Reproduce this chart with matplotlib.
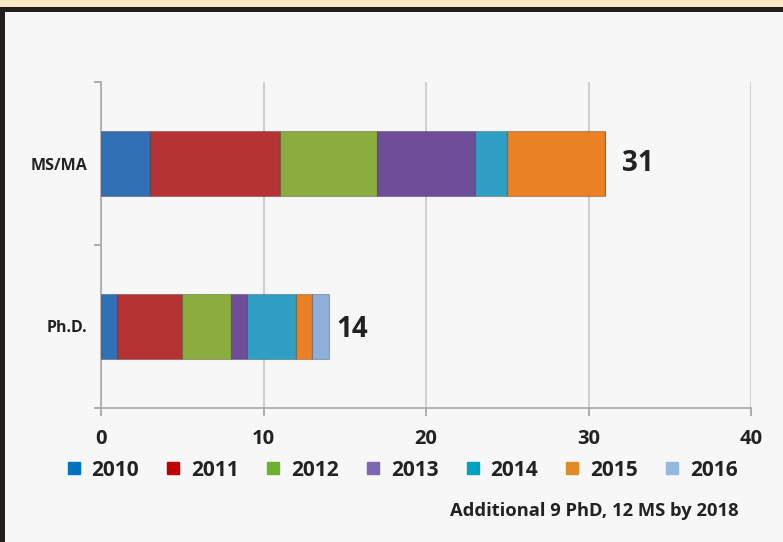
import matplotlib.pyplot as plt
from matplotlib.patches import Rectangle
from matplotlib.lines import Line2D

plt.rcParams['font.family'] = ['Open Sans', 'DejaVu Sans']

categories = ["Ph.D.", "MS/MA"]
years = ["2010", "2011", "2012", "2013", "2014", "2015", "2016"]
# counts per year, [Ph.D., MS/MA]
counts = {
    "2010": [1, 3],
    "2011": [4, 8],
    "2012": [3, 6],
    "2013": [1, 6],
    "2014": [3, 2],
    "2015": [1, 6],
    "2016": [1, 0],
}
bar_colors = ["#3170B5", "#B53333", "#8BAD3F", "#6E4E98", "#2FA0C3", "#EA8124", "#8DAFDA"]
legend_colors = ["#0070C0", "#C00000", "#70B030", "#7B68B0", "#00A0C0", "#E08A28", "#95B8E0"]
note = "Additional 9 PhD, 12 MS by 2018"

txt = "#222222"
fig = plt.figure(figsize=(7.83, 5.42), dpi=100, facecolor="#F7F7F7")

# frame strips
fig.add_artist(Rectangle((0, 1 - 7 / 542), 1, 7 / 542, transform=fig.transFigure,
                         facecolor="#FEE8C8", edgecolor="none"))
fig.add_artist(Rectangle((0, 1 - 12 / 542), 1, 5 / 542, transform=fig.transFigure,
                         facecolor="#23201C", edgecolor="none"))
fig.add_artist(Rectangle((0, 0), 5 / 783, 1 - 7 / 542, transform=fig.transFigure,
                         facecolor="#23201C", edgecolor="none"))

ax = fig.add_axes([101 / 783, 134 / 542, 650 / 783, 326 / 542])
ax.set_facecolor("#F7F7F7")

ypos = list(range(len(categories)))
left = [0] * len(categories)
for year, c in zip(years, bar_colors):
    vals = counts[year]
    ax.barh(ypos, vals, left=left, height=0.4, color=c,
            edgecolor=(0, 0, 0, 0.25), linewidth=0.8, zorder=3)
    left = [l + v for l, v in zip(left, vals)]

offsets = [8, 17]
for y, total, off in zip(ypos, left, offsets):
    ax.annotate(str(total), (total, y), xytext=(off * 0.72, -2 if y == 0 else 0),
                textcoords="offset points", va="center", ha="left",
                fontsize=20, fontweight="bold", color=txt)

ax.set_xlim(0, 40)
ax.set_ylim(-0.5, 1.5)
ax.set_xticks([0, 10, 20, 30, 40])
ax.set_xticklabels(["0", "10", "20", "30", "40"])
ax.set_yticks(ypos)
ax.set_yticklabels(categories)
ax.set_yticks([-0.5, 0.5, 1.5], minor=True)
ax.tick_params(axis="y", which="major", length=0, pad=10, labelsize=11.5, labelcolor=txt)
ax.tick_params(axis="y", which="minor", length=5, color="#A0A0A0", width=1.2)
ax.tick_params(axis="x", length=6, color="#A0A0A0", width=1.2, pad=9,
               labelsize=14.5, labelcolor=txt)
for lab in ax.get_xticklabels() + ax.get_yticklabels():
    lab.set_fontweight("bold")

ax.grid(axis="x", color="#CFCFCF", linewidth=1.5, zorder=0)
for s in ["top", "right"]:
    ax.spines[s].set_visible(False)
for s in ["left", "bottom"]:
    ax.spines[s].set_color("#A8A8A8")
    ax.spines[s].set_linewidth(1.2)

handles = [Line2D([], [], marker="s", linestyle="none", markersize=9,
                  markerfacecolor=c, markeredgecolor=c) for c in legend_colors]
leg = fig.legend(handles, years, loc="center", bbox_to_anchor=(402 / 783, 1 - 470 / 542),
                 ncol=7, frameon=False, fontsize=15, handlelength=0.7,
                 handletextpad=0.5, columnspacing=1.3)
for t in leg.get_texts():
    t.set_fontweight("bold")
    t.set_color(txt)

fig.text(594 / 783, 1 - 511 / 542, note, ha="center", va="center",
         fontsize=13.2, fontweight="bold", color=txt)

fig.savefig("out.png", dpi=100, facecolor=fig.get_facecolor())
